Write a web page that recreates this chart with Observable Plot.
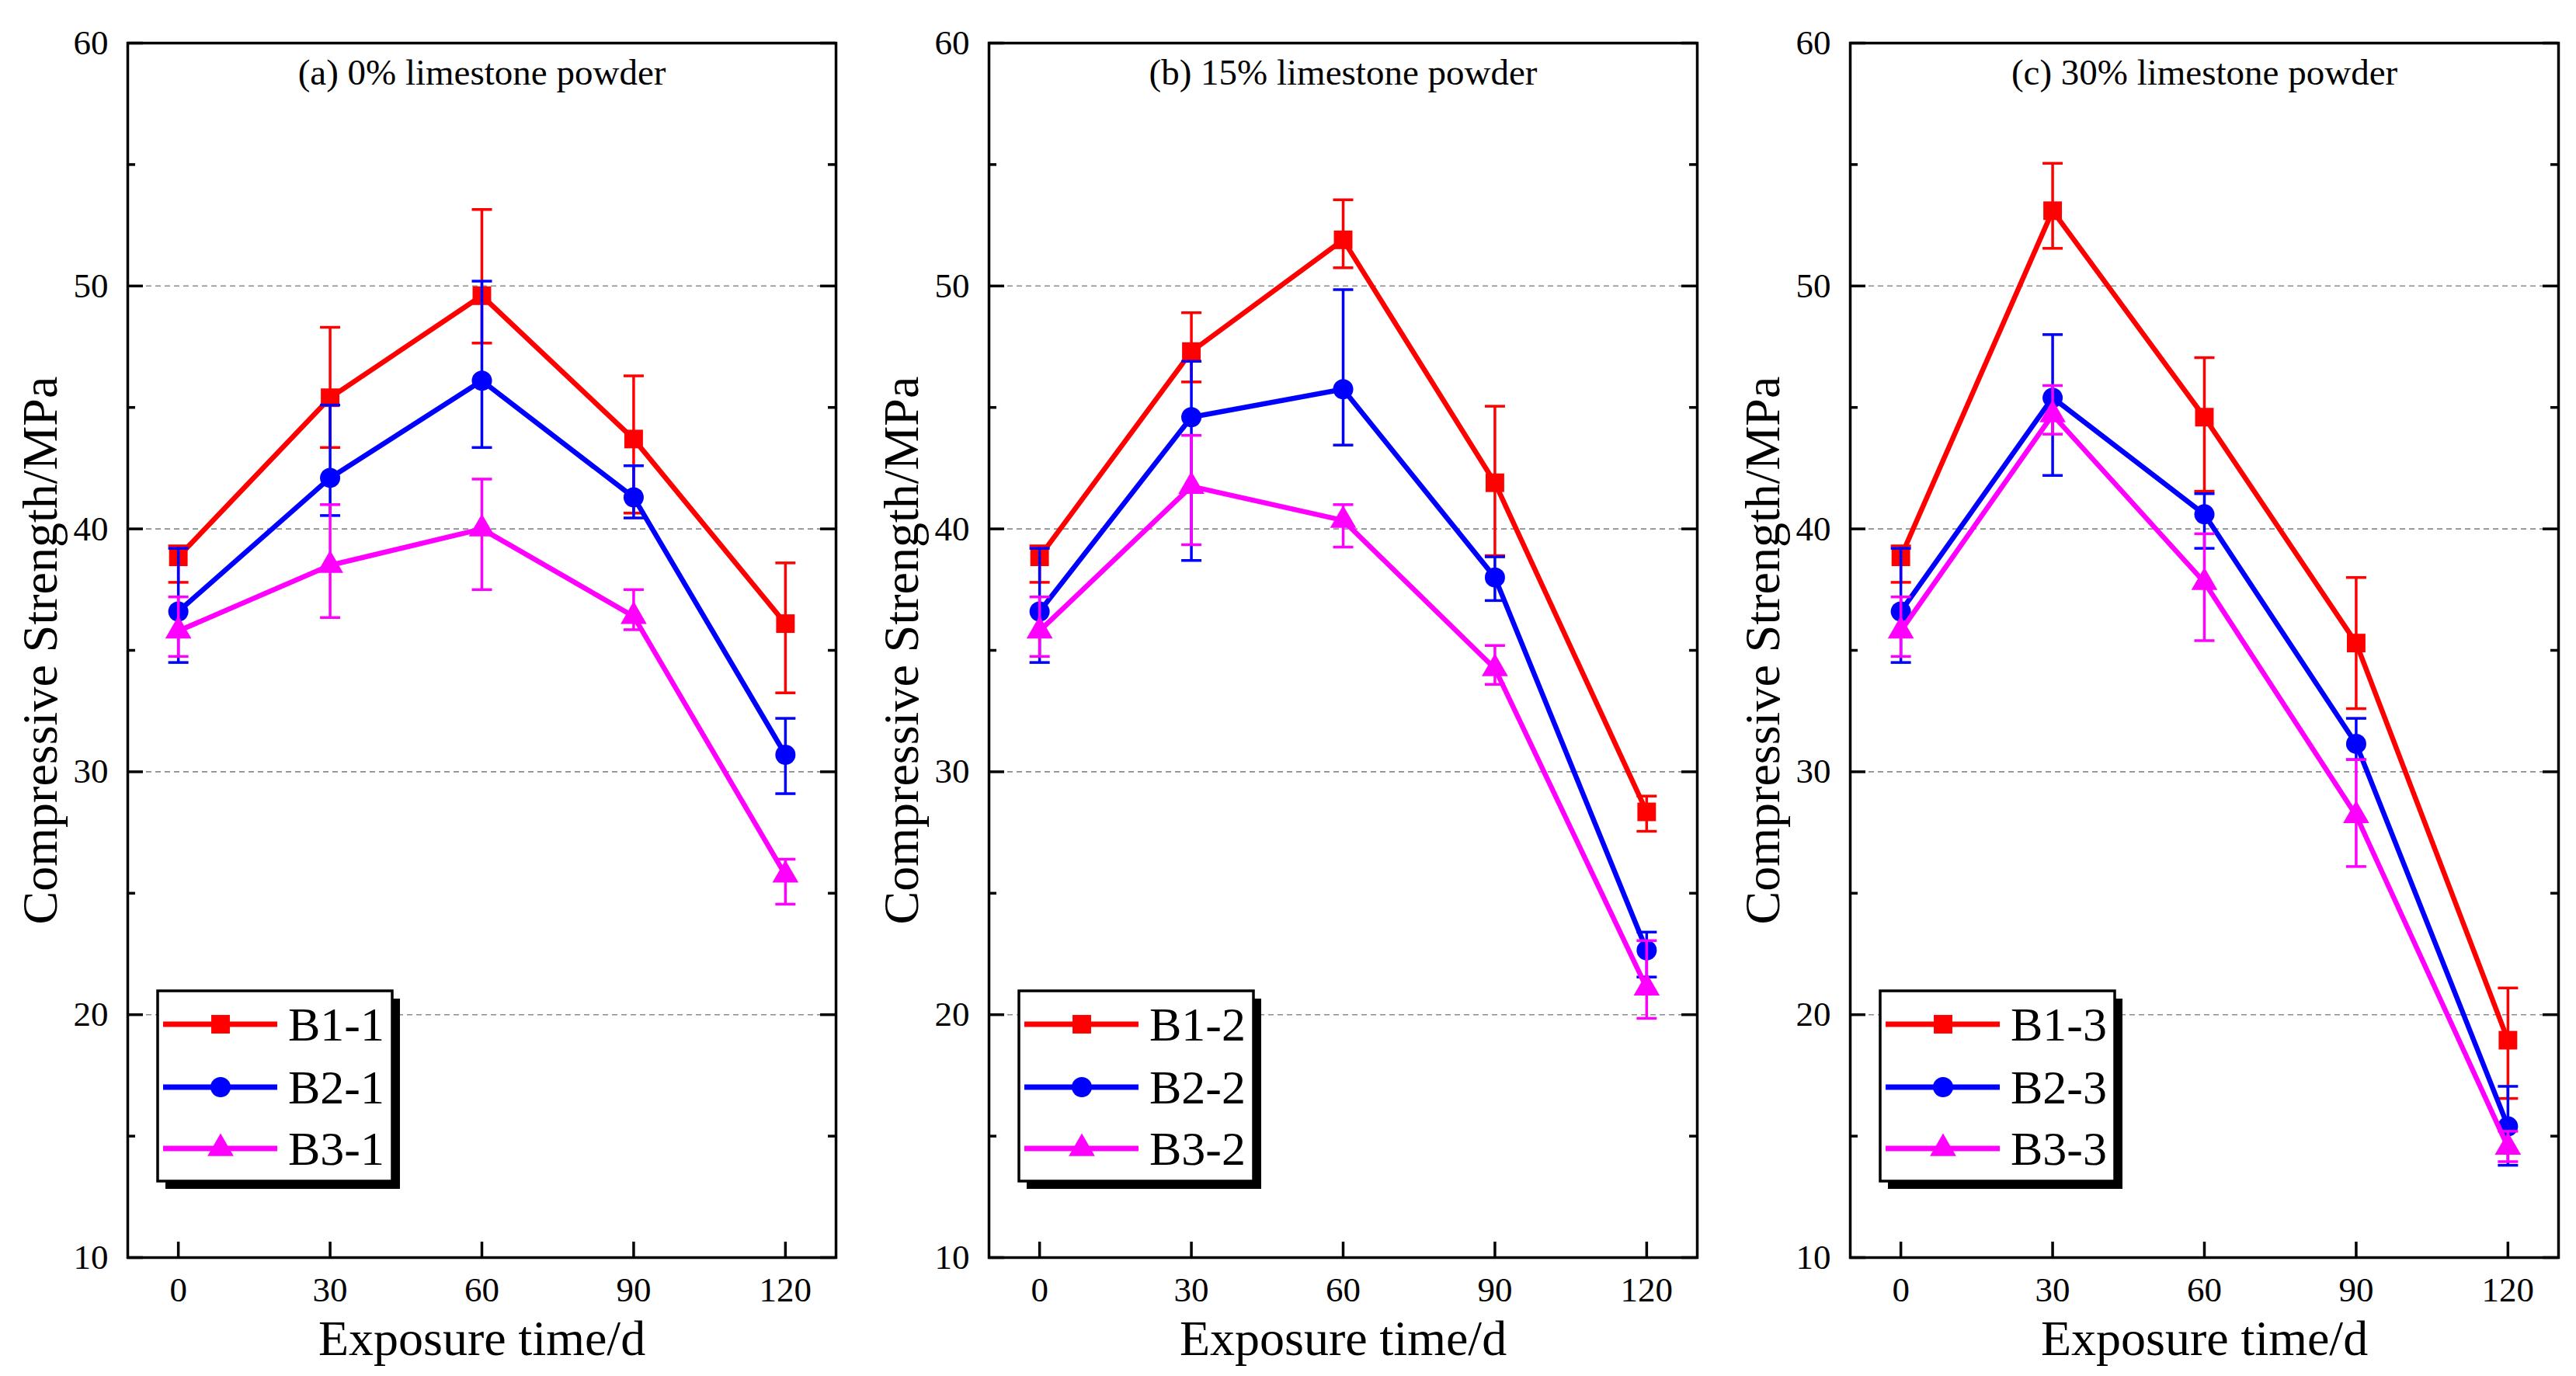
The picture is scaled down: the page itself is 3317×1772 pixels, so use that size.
<!DOCTYPE html>
<html>
<head>
<meta charset="utf-8">
<script src="https://cdn.jsdelivr.net/npm/d3@7"></script>
<script src="https://cdn.jsdelivr.net/npm/@observablehq/plot@0.6"></script>
<style>
  html, body { margin: 0; padding: 0; background: #ffffff; }
  #row { display: flex; width: 3317px; height: 1772px; overflow: hidden; }
  #row > svg { flex: none; }
  svg text { font-family: "Liberation Serif", "Times New Roman", serif; }
</style>
</head>
<body>
<div id="row"></div>
<script>
// ---------- data ----------
const days = [0, 30, 60, 90, 120];
const yMajor = [10, 20, 30, 40, 50, 60];
const yMinor = [15, 25, 35, 45, 55];
const gridY = [20, 30, 40, 50];
const panelTitles = ["(a) 0% limestone powder", "(b) 15% limestone powder", "(c) 30% limestone powder"];
const xTitle = "Exposure time/d";
const yTitle = "Compressive Strength/MPa";
const seriesNames = [["B1-1", "B2-1", "B3-1"], ["B1-2", "B2-2", "B3-2"], ["B1-3", "B2-3", "B3-3"]];
const colors = ["#FF0000", "#0000FF", "#FF00FF"];
const symbols = ["square", "circle", "triangle"];

// panel (a) 0% limestone powder
const B1_1    = [38.85, 45.4, 49.6, 43.7, 36.1];
const B1_1_hi = [39.3, 48.3, 53.15, 46.3, 38.6];
const B1_1_lo = [37.8, 43.35, 47.65, 40.65, 33.25];
const B2_1    = [36.6, 42.1, 46.1, 41.3, 30.7];
const B2_1_hi = [39.2, 45.1, 50.2, 42.6, 32.2];
const B2_1_lo = [34.5, 40.55, 43.35, 40.45, 29.1];
const B3_1    = [35.8, 38.5, 40.0, 36.4, 25.75];
const B3_1_hi = [37.2, 41.0, 42.05, 37.5, 26.4];
const B3_1_lo = [34.75, 36.35, 37.5, 35.85, 24.55];

// panel (b) 15% limestone powder
const B1_2    = [38.85, 47.3, 51.9, 41.9, 28.35];
const B1_2_hi = [39.3, 48.9, 53.55, 45.05, 29.0];
const B1_2_lo = [37.8, 46.05, 50.75, 38.9, 27.55];
const B2_2    = [36.6, 44.6, 45.75, 38.0, 22.65];
const B2_2_hi = [39.2, 46.9, 49.85, 38.85, 23.4];
const B2_2_lo = [34.5, 38.7, 43.45, 37.05, 21.55];
const B3_2    = [35.8, 41.75, 40.35, 34.25, 21.1];
const B3_2_hi = [37.2, 43.85, 41.0, 35.2, 23.05];
const B3_2_lo = [34.75, 39.35, 39.25, 33.6, 19.85];

// panel (c) 30% limestone powder
const B1_3    = [38.85, 53.1, 44.6, 35.3, 18.95];
const B1_3_hi = [39.3, 55.05, 47.05, 38.0, 21.1];
const B1_3_lo = [37.8, 51.55, 41.55, 32.6, 16.55];
const B2_3    = [36.6, 45.4, 40.6, 31.15, 15.4];
const B2_3_hi = [39.2, 48.0, 41.45, 32.2, 17.05];
const B2_3_lo = [34.5, 42.2, 39.2, 30.5, 13.8];
const B3_3    = [35.8, 44.7, 37.8, 28.2, 14.55];
const B3_3_hi = [37.2, 45.9, 39.8, 30.5, 15.2];
const B3_3_lo = [34.75, 43.9, 35.4, 26.1, 13.95];

const panelMeans = [[B1_1, B2_1, B3_1], [B1_2, B2_2, B3_2], [B1_3, B2_3, B3_3]];
const panelHis   = [[B1_1_hi, B2_1_hi, B3_1_hi], [B1_2_hi, B2_2_hi, B3_2_hi], [B1_3_hi, B2_3_hi, B3_3_hi]];
const panelLos   = [[B1_1_lo, B2_1_lo, B3_1_lo], [B1_2_lo, B2_2_lo, B3_2_lo], [B1_3_lo, B2_3_lo, B3_3_lo]];

// ---------- layout ----------
const widths = [1109, 1109, 1099];
const H = 1772, mL = 164, fw = 912, mT = 55, fh = 1564;
const FONT = "Liberation Serif";

// horizontal cap symbol for error bars
const capSymbol = {
  draw(context, size) {
    const r = Math.sqrt(size / Math.PI);
    context.moveTo(-r, 0);
    context.lineTo(r, 0);
  }
};

function seriesMarks(rows, color, symbol) {
  const r = symbol === "square" ? 13.5 : symbol === "circle" ? 13 : 12.5;
  return [
    Plot.line(rows, {x: "day", y: "mean", stroke: color, strokeWidth: 6.5}),
    Plot.ruleX(rows, {x: "day", y1: "lo", y2: "hi", stroke: color, strokeWidth: 3.5}),
    Plot.dot(rows, {x: "day", y: "hi", symbol: capSymbol, r: 13, stroke: color, fill: "none", strokeWidth: 3.5}),
    Plot.dot(rows, {x: "day", y: "lo", symbol: capSymbol, r: 13, stroke: color, fill: "none", strokeWidth: 3.5}),
    Plot.dot(rows, {x: "day", y: "mean", symbol: symbol, r: r, fill: color, stroke: "none"})
  ];
}

function addLegend(svg, names) {
  const g = d3.select(svg).append("g").attr("text-anchor", "start");
  const x0 = mL + 39, y0 = 1276, w = 302, h = 245;
  g.append("rect").attr("x", x0 + 10).attr("y", y0 + 10).attr("width", w).attr("height", h).attr("fill", "#000");
  g.append("rect").attr("x", x0).attr("y", y0).attr("width", w).attr("height", h)
    .attr("fill", "#fff").attr("stroke", "#000").attr("stroke-width", 3.5);
  const rowY = [1319, 1400, 1479];
  const symTypes = [d3.symbolSquare, d3.symbolCircle, d3.symbolTriangle];
  const symSizes = [13.5 * 13.5 * Math.PI, 13 * 13 * Math.PI, 12.5 * 12.5 * Math.PI];
  names.forEach((n, i) => {
    g.append("line").attr("x1", mL + 46).attr("x2", mL + 193).attr("y1", rowY[i]).attr("y2", rowY[i])
      .attr("stroke", colors[i]).attr("stroke-width", 7);
    g.append("path").attr("transform", `translate(${mL + 120},${rowY[i]})`)
      .attr("d", d3.symbol(symTypes[i], symSizes[i])()).attr("fill", colors[i]);
    g.append("text").attr("x", mL + 207).attr("y", rowY[i]).attr("dy", "0.34em")
      .attr("text-anchor", "start")
      .attr("font-size", 62).attr("font-family", FONT).attr("fill", "#000").text(n);
  });
}

const row = document.getElementById("row");

for (let p = 0; p < 3; p++) {
  const W = widths[p];
  const marks = [
    Plot.ruleY(gridY, {y: d => d, stroke: "#8c8c8c", strokeWidth: 1.6, strokeDasharray: "7,5"}),
    Plot.axisY(yMajor, {tickSize: 0, tickPadding: 25, fontSize: 45, label: null, fontFamily: FONT, fill: "#000"}),
    Plot.axisX(days, {tickSize: 0, tickPadding: 25, fontSize: 45, label: null, fontFamily: FONT, fill: "#000"}),
    Plot.tickY(yMajor, {y: d => d, insetRight: fw - 20, stroke: "#000", strokeWidth: 3.5}),
    Plot.tickY(yMajor, {y: d => d, insetLeft: fw - 20, stroke: "#000", strokeWidth: 3.5}),
    Plot.tickY(yMinor, {y: d => d, insetRight: fw - 10, stroke: "#000", strokeWidth: 3.5}),
    Plot.tickY(yMinor, {y: d => d, insetLeft: fw - 10, stroke: "#000", strokeWidth: 3.5}),
    Plot.tickX(days, {x: d => d, insetTop: fh - 20, stroke: "#000", strokeWidth: 3.5})
  ];
  for (let s = 0; s < 3; s++) {
    const rows = days.map((d, i) => ({
      day: d, mean: panelMeans[p][s][i], hi: panelHis[p][s][i], lo: panelLos[p][s][i]
    }));
    marks.push(...seriesMarks(rows, colors[s], symbols[s]));
  }
  marks.push(
    Plot.frame({stroke: "#000", strokeWidth: 3.5}),
    Plot.text([panelTitles[p]], {text: d => d, frameAnchor: "top", lineAnchor: "middle", dy: 38,
      fontSize: 47, fontFamily: FONT, fill: "#000"}),
    Plot.text([yTitle], {text: d => d, frameAnchor: "left", textAnchor: "middle", rotate: -90, lineAnchor: "middle",
      dx: -112, fontSize: 64, fontFamily: FONT, fill: "#000"}),
    Plot.text([xTitle], {text: d => d, frameAnchor: "bottom", lineAnchor: "middle",
      dy: 105, fontSize: 64, fontFamily: FONT, fill: "#000"})
  );

  const svg = Plot.plot({
    width: W,
    height: H,
    marginLeft: mL,
    marginRight: W - mL - fw,
    marginTop: mT,
    marginBottom: H - mT - fh,
    x: {domain: [-10, 130]},
    y: {domain: [10, 60]},
    style: {fontFamily: FONT, background: "#ffffff", maxWidth: "none", color: "#000"},
    marks
  });
  addLegend(svg, seriesNames[p]);
  row.appendChild(svg);
}
</script>
</body>
</html>
